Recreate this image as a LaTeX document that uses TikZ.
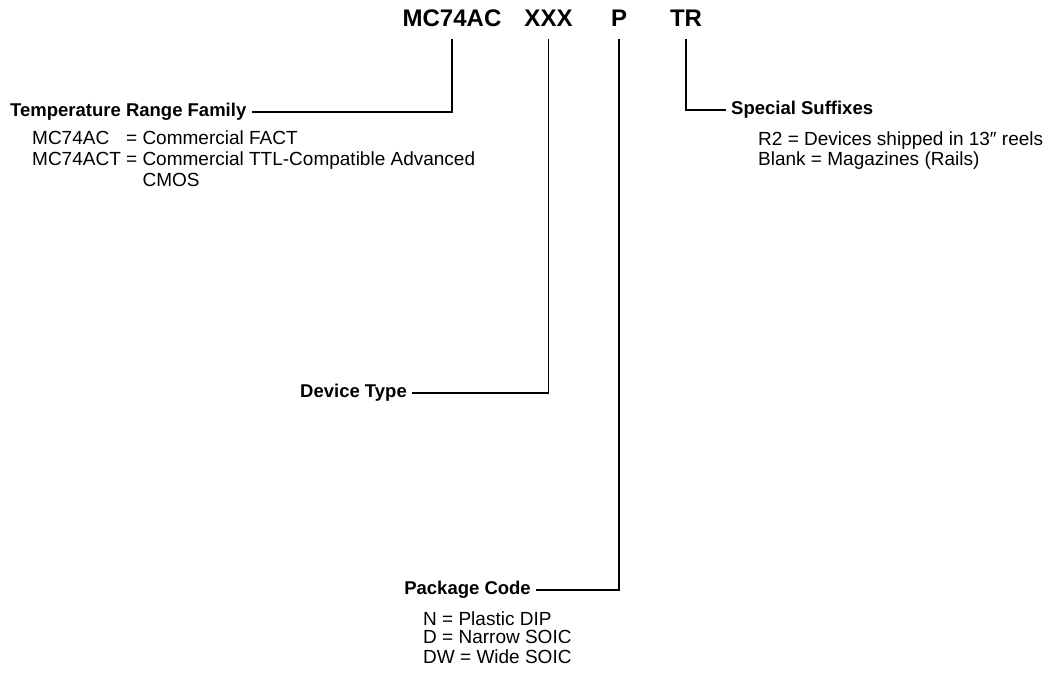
\documentclass[tikz,border=0pt]{standalone}
\usepackage{fontspec}
\setmainfont{Liberation Sans}
\begin{document}
\begin{tikzpicture}[x=1pt,y=-1pt,
  title/.style={inner sep=0pt,text depth=0pt,font=\bfseries\fontsize{24}{26}\selectfont,anchor=base},
  head/.style={inner sep=0pt,text height=13pt,text depth=4pt,font=\bfseries\fontsize{18.5}{21}\selectfont},
  body/.style={inner sep=0pt,anchor=base west,align=left},
  conn/.style={line width=1.2pt,shorten <=13pt,shorten >=5pt}]
\useasboundingbox (0,0) rectangle (1056,672);
% title parts
\node[title] (mc)  at (452,26) {MC74AC};
\node[title] (xxx) at (548.5,26) {XXX};
\node[title] (p)   at (619,26) {P};
\node[title] (tr)  at (686,26) {TR};
% headings
\node[head,anchor=west] (trf) at (10,112) {Temperature Range Family};
\node[head,anchor=east] (dt)  at (407,393) {Device Type};
\node[head,anchor=east] (pc)  at (531,590) {Package Code};
\node[head,anchor=west] (ss)  at (731,110) {Special Suffixes};
% bodies
\node[body] (trfb) at (32,144) {\fontsize{19}{21}\selectfont
  \begin{tabular}[t]{@{}l@{\ }l@{}}
  MC74AC & = Commercial FACT\\
  MC74ACT & = Commercial TTL-Compatible Advanced\\
  & \phantom{= }CMOS
  \end{tabular}};
\node[body] (ssb) at (758,145) {\fontsize{19}{20}\selectfont
  \begin{tabular}[t]{@{}l@{}}
  R2 = Devices shipped in 13″ reels\\
  Blank = Magazines (Rails)
  \end{tabular}};
\node[body] (pcb) at (423,625) {\fontsize{19}{18.5}\selectfont
  \begin{tabular}[t]{@{}l@{}}
  N = Plastic DIP\\
  D = Narrow SOIC\\
  DW = Wide SOIC
  \end{tabular}};
% connectors
\draw[conn] (mc)  |- (trf);
\draw[conn] (xxx) |- (dt);
\draw[conn] (p)   |- (pc);
\draw[conn] (tr)  |- (ss);
\end{tikzpicture}
\end{document}
